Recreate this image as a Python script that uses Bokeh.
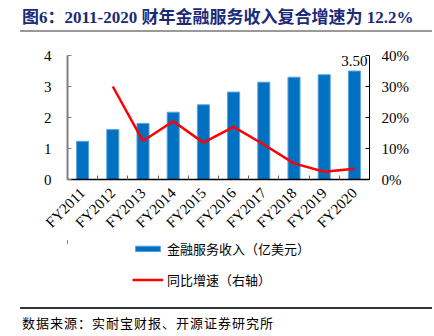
import math
from bokeh.plotting import figure
from bokeh.layouts import column
from bokeh.models import (Range1d, LinearAxis, FixedTicker, PrintfTickFormatter, Label,
                          Legend, LegendItem, Div, ColumnDataSource)
from bokeh.embed import file_html
from bokeh.resources import INLINE

years = ["FY2011", "FY2012", "FY2013", "FY2014", "FY2015", "FY2016", "FY2017", "FY2018", "FY2019", "FY2020"]
revenue = [1.23, 1.61, 1.81, 2.17, 2.41, 2.82, 3.14, 3.30, 3.38, 3.50]
growth = [float("nan"), 30.0, 12.4, 18.8, 11.9, 17.0, 11.3, 5.2, 2.5, 3.5]
left_ticks = [0, 1, 2, 3, 4]
right_ticks = [0, 10, 20, 30, 40]

title_text = "图6：2011-2020 财年金融服务收入复合增速为 12.2%"
source_text = "数据来源：实耐宝财报、开源证券研究所"
bar_name = "金融服务收入（亿美元）"
line_name = "同比增速（右轴）"

SERIF = "'Liberation Serif', 'Noto Sans CJK SC'"
CJK = "'Noto Sans CJK SC'"
BAR_FILL = "#0070C0"
BAR_EDGE = "#5fa3e0"
LINE_COLOR = "#FF0000"

W = 434
FL, FR = 67, 369          # frame left/right (canvas px)
H_TITLE, H_MAIN, H_LEG, H_SRC = 40, 200, 56, 40
Y_MAIN = H_TITLE
Y_LEG = Y_MAIN + H_MAIN
Y_SRC = Y_LEG + H_LEG

# ---- title strip (HTML) ----
title_html = (
    f'<div style="position:relative;width:{W}px;height:{H_TITLE}px;margin:0;padding:0;">'
    f'<div style="position:absolute;left:22px;top:17px;transform:translateY(-50%);white-space:nowrap;'
    f'font-family:{SERIF};font-weight:bold;font-size:17px;color:#1c2a78;line-height:1;">{title_text}</div>'
    f'<div style="position:absolute;left:20px;top:30px;width:412px;height:2px;background:#999999;"></div>'
    f'</div>'
)
ft = Div(text=title_html, width=W, height=H_TITLE, margin=0)

# ---- main chart ----
xs = list(range(len(years)))
src = ColumnDataSource(dict(x=xs, revenue=revenue, growth=growth))
p = figure(width=W, height=H_MAIN, output_backend="svg", toolbar_location=None,
           x_range=Range1d(-0.5, len(years) - 0.5), y_range=Range1d(0, 4),
           min_border_left=FL, min_border_right=W - FR,
           min_border_top=55 - Y_MAIN, min_border_bottom=Y_LEG - 179,
           outline_line_color=None, margin=0)
p.xgrid.visible = False
p.ygrid.visible = False
p.extra_y_ranges = {"pct": Range1d(0, 40)}

bar_kw = dict(width=0.4, fill_color=BAR_FILL, line_color=BAR_EDGE, line_width=1)
line_kw = dict(line_color=LINE_COLOR, line_width=2.5)
p.vbar(x="x", top="revenue", source=src, **bar_kw)
p.line(x="x", y="growth", source=src, y_range_name="pct", **line_kw)

xa = p.xaxis[0]
xa.ticker = FixedTicker(ticks=xs, minor_ticks=[i + 0.5 for i in xs[:-1]])
xa.major_label_overrides = {i: y for i, y in zip(xs, years)}
xa.major_label_orientation = math.pi / 4
xa.major_tick_line_color = None
xa.minor_tick_in = 4
xa.minor_tick_out = 0
xa.minor_tick_line_color = "#666666"
xa.axis_line_color = "black"
xa.axis_line_width = 1.5
xa.major_label_text_font = SERIF
xa.major_label_text_font_size = "15px"
xa.major_label_text_color = "black"
xa.major_label_standoff = 5

ya = p.yaxis[0]
ya.ticker = FixedTicker(ticks=left_ticks, minor_ticks=[])
ya.axis_line_color = "#808080"
ya.axis_line_width = 2
ya.major_tick_line_color = "#808080"
ya.major_tick_in = 4
ya.major_tick_out = 0
ya.minor_tick_line_color = None
ya.major_label_text_font = SERIF
ya.major_label_text_font_size = "15px"
ya.major_label_text_color = "black"
ya.major_label_standoff = 16

ra = LinearAxis(y_range_name="pct", ticker=FixedTicker(ticks=right_ticks, minor_ticks=[]),
                formatter=PrintfTickFormatter(format="%d%%"))
ra.axis_line_color = "black"
ra.axis_line_width = 1
ra.major_tick_line_color = "black"
ra.major_tick_in = 4
ra.major_tick_out = 0
ra.minor_tick_line_color = None
ra.major_label_text_font = SERIF
ra.major_label_text_font_size = "15px"
ra.major_label_text_color = "black"
ra.major_label_standoff = 12
p.add_layout(ra, "right")

p.add_layout(Label(x=xs[-1], y=revenue[-1], text=f"{revenue[-1]:.2f}", y_offset=5,
                   text_align="center", text_baseline="bottom", text_font=SERIF,
                   text_font_size="15px", text_color="black"))

# ---- legend strip: a Bokeh legend; its renderers share the data but fall outside
# this strip's x range (canvas-pixel coordinates), so they only feed the legend ----
fl = figure(width=W, height=H_LEG, output_backend="svg", toolbar_location=None,
            x_range=Range1d(FL, FR), y_range=Range1d(H_LEG, 0),
            x_axis_type=None, y_axis_type=None,
            min_border_left=FL, min_border_right=W - FR, min_border_top=0, min_border_bottom=0,
            outline_line_color=None, margin=0)
fl.xgrid.visible = False
fl.ygrid.visible = False
r_bar = fl.vbar(x="x", top="revenue", source=src, **bar_kw)
r_line = fl.line(x="x", y="growth", source=src, **line_kw)
legend = Legend(items=[LegendItem(label=bar_name, renderers=[r_bar]),
                       LegendItem(label=line_name, renderers=[r_line])],
                location=(132 - FL, Y_SRC - 289), orientation="vertical",
                glyph_width=31, glyph_height=7, label_height=14, spacing=12,
                padding=0, margin=0, border_line_color=None, background_fill_alpha=0,
                label_text_font=CJK, label_text_font_size="13px", label_standoff=4,
                label_text_color="black")
fl.add_layout(legend, "center")

# ---- source strip (HTML) ----
src_html = (
    f'<div style="position:relative;width:{W}px;height:{H_SRC}px;margin:0;padding:0;">'
    f'<div style="position:absolute;left:20px;top:{308 - Y_SRC - 1}px;width:412px;height:1.5px;background:#333333;"></div>'
    f'<div style="position:absolute;left:22px;top:{322 - Y_SRC}px;transform:translateY(-50%);white-space:nowrap;'
    f'font-family:{CJK};font-size:13px;letter-spacing:1px;color:black;line-height:1;">{source_text}</div>'
    f'</div>'
)
fs = Div(text=src_html, width=W, height=H_SRC, margin=0)

layout = column(ft, p, fl, fs, spacing=0, margin=0)
open("out.html", "w").write(file_html(layout, INLINE))
